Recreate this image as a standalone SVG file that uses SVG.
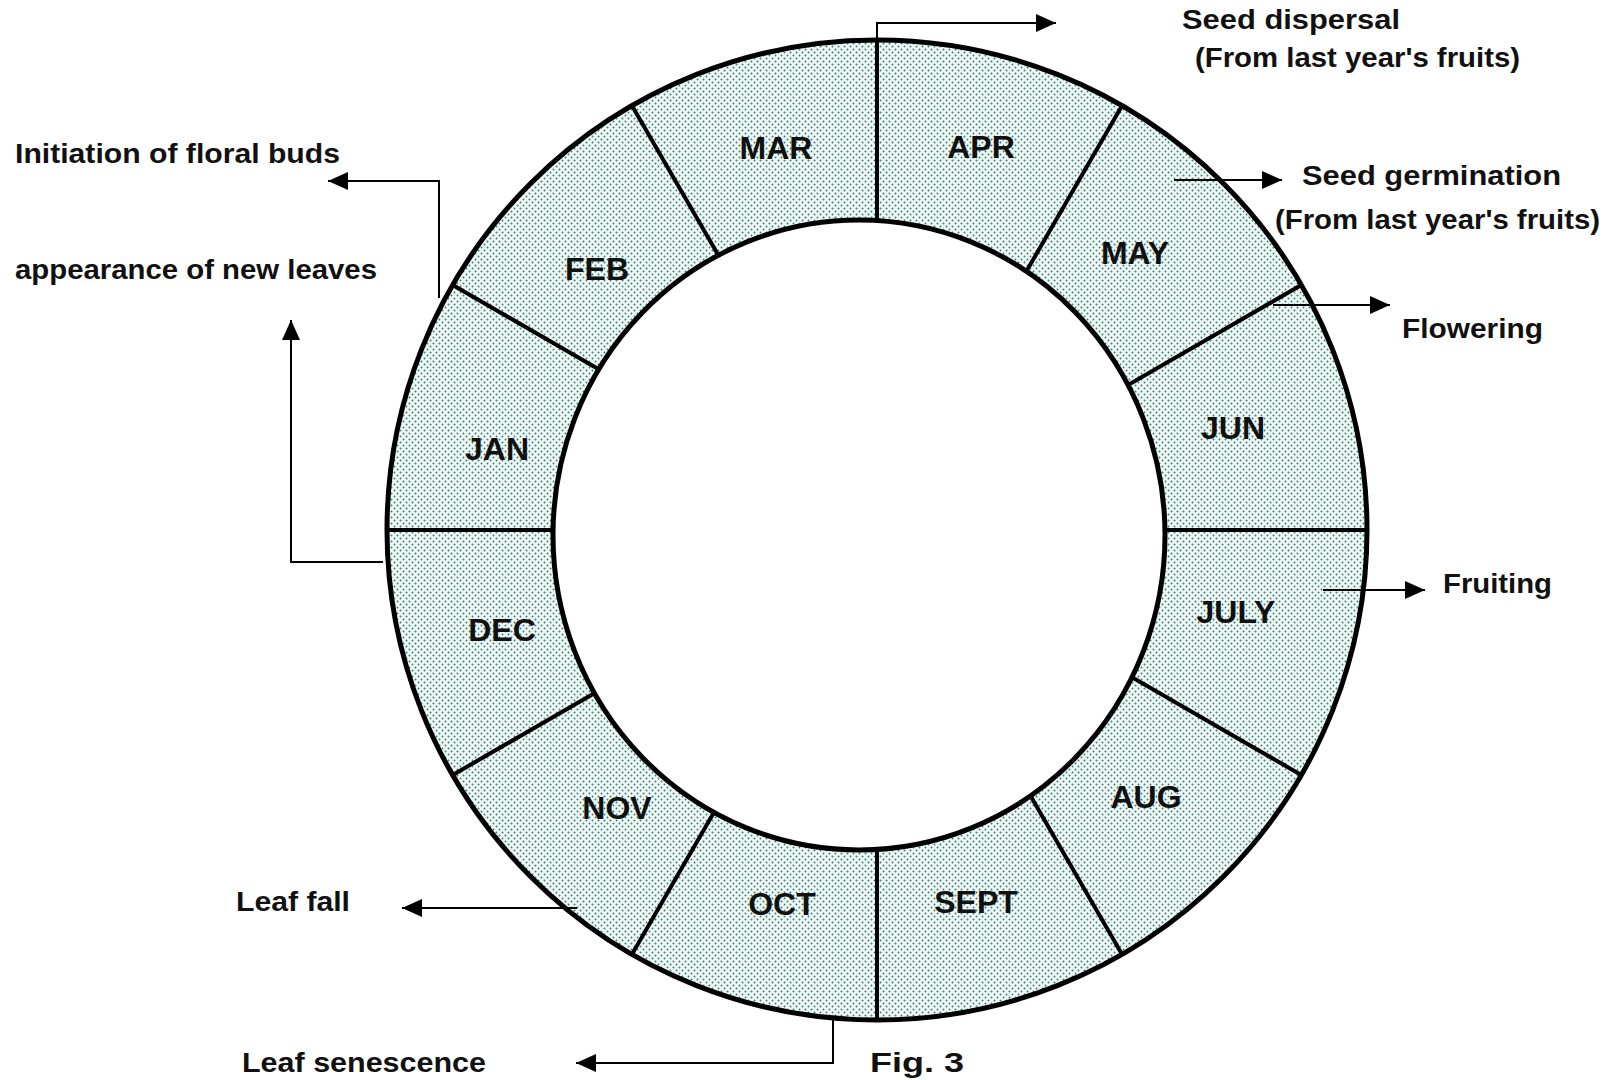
<svg xmlns="http://www.w3.org/2000/svg" width="1608" height="1080" viewBox="0 0 1608 1080">
<defs>
<pattern id="dots" width="6" height="6" patternUnits="userSpaceOnUse">
<rect width="6" height="6" fill="#f1f7f5"/>
<circle cx="1.5" cy="1.5" r="0.95" fill="#2f7f74"/>
<circle cx="4.5" cy="4.5" r="0.95" fill="#2f7f74"/>
</pattern>
<marker id="arr" viewBox="0 0 20 20" markerWidth="20" markerHeight="20" refX="20" refY="10" orient="auto" markerUnits="userSpaceOnUse">
<path d="M0,1 L20,10 L0,19 Z" fill="#000"/>
</marker>
<style>
.m{font-family:"Liberation Sans",Arial,sans-serif;font-weight:bold;font-size:32px;text-anchor:middle;fill:#111}
.a{font-family:"Liberation Sans",Arial,sans-serif;font-weight:bold;font-size:28px;fill:#111}
.c{fill:none;stroke:#000;stroke-width:2}
.s{stroke:#000;stroke-width:4}
</style>
</defs>
<rect width="1608" height="1080" fill="#fff"/>
<g id="wheel">
<circle cx="877" cy="530" r="490" fill="url(#dots)" stroke="#000" stroke-width="5"/>
<g id="spokes">
<line class="s" x1="877" y1="530" x2="1367" y2="530" stroke-width="5"/>
<line class="s" x1="877" y1="530" x2="1301.3" y2="775"/>
<line class="s" x1="877" y1="530" x2="1122" y2="954.3"/>
<line class="s" x1="877" y1="530" x2="877" y2="1020"/>
<line class="s" x1="877" y1="530" x2="632" y2="954.3"/>
<line class="s" x1="877" y1="530" x2="452.7" y2="775"/>
<line class="s" x1="877" y1="530" x2="387" y2="530" stroke-width="5"/>
<line class="s" x1="877" y1="530" x2="452.7" y2="285"/>
<line class="s" x1="877" y1="530" x2="632" y2="105.7"/>
<line class="s" x1="877" y1="530" x2="877" y2="40"/>
<line class="s" x1="877" y1="530" x2="1122" y2="105.7"/>
<line class="s" x1="877" y1="530" x2="1301.3" y2="285"/>
</g>
<ellipse cx="859" cy="535" rx="306" ry="315" fill="#fff" stroke="#000" stroke-width="5"/>
</g>
<g id="months">
<text id="mar" class="m" x="776" y="159">MAR</text>
<text id="apr" class="m" x="981" y="158">APR</text>
<text id="feb" class="m" x="597" y="280">FEB</text>
<text id="may" class="m" x="1135" y="264">MAY</text>
<text id="jan" class="m" x="497" y="460">JAN</text>
<text id="jun" class="m" x="1233" y="439">JUN</text>
<text id="dec" class="m" x="502" y="641">DEC</text>
<text id="july" class="m" x="1236" y="623">JULY</text>
<text id="nov" class="m" x="617" y="819">NOV</text>
<text id="aug" class="m" x="1146" y="808">AUG</text>
<text id="oct" class="m" x="782" y="915">OCT</text>
<text id="sept" class="m" x="976" y="913">SEPT</text>
</g>
<g id="connectors">
<path class="c" d="M877,40 V23 H1056" marker-end="url(#arr)"/>
<path class="c" d="M1174,180 H1282" marker-end="url(#arr)"/>
<path class="c" d="M1273,305 H1390" marker-end="url(#arr)"/>
<path class="c" d="M1323,590 H1425" marker-end="url(#arr)"/>
<path class="c" d="M439,298 V181 H328" marker-end="url(#arr)"/>
<path class="c" d="M383,562 H291 V320" marker-end="url(#arr)"/>
<path class="c" d="M577,908 H402" marker-end="url(#arr)"/>
<path class="c" d="M833,1020 V1063 H576" marker-end="url(#arr)"/>
</g>
<g id="labels">
<text id="l-disp" class="a" x="1182" y="29" textLength="218" lengthAdjust="spacingAndGlyphs">Seed dispersal</text>
<text id="l-disp2" class="a" x="1195" y="67" textLength="325" lengthAdjust="spacingAndGlyphs">(From last year's fruits)</text>
<text id="l-germ" class="a" x="1302" y="185" textLength="259" lengthAdjust="spacingAndGlyphs">Seed germination</text>
<text id="l-germ2" class="a" x="1275" y="229" textLength="325" lengthAdjust="spacingAndGlyphs">(From last year's fruits)</text>
<text id="l-flow" class="a" x="1402" y="338" textLength="141" lengthAdjust="spacingAndGlyphs">Flowering</text>
<text id="l-fruit" class="a" x="1443" y="593" textLength="109" lengthAdjust="spacingAndGlyphs">Fruiting</text>
<text id="l-init" class="a" x="15" y="163" textLength="325" lengthAdjust="spacingAndGlyphs">Initiation of floral buds</text>
<text id="l-leaves" class="a" x="15" y="279" textLength="362" lengthAdjust="spacingAndGlyphs">appearance of new leaves</text>
<text id="l-fall" class="a" x="236" y="911" textLength="114" lengthAdjust="spacingAndGlyphs">Leaf fall</text>
<text id="l-sen" class="a" x="242" y="1072" textLength="244" lengthAdjust="spacingAndGlyphs">Leaf senescence</text>
<text id="fig" class="a" x="870" y="1072" font-size="29" textLength="94" lengthAdjust="spacingAndGlyphs">Fig. 3</text>
</g>
</svg>
